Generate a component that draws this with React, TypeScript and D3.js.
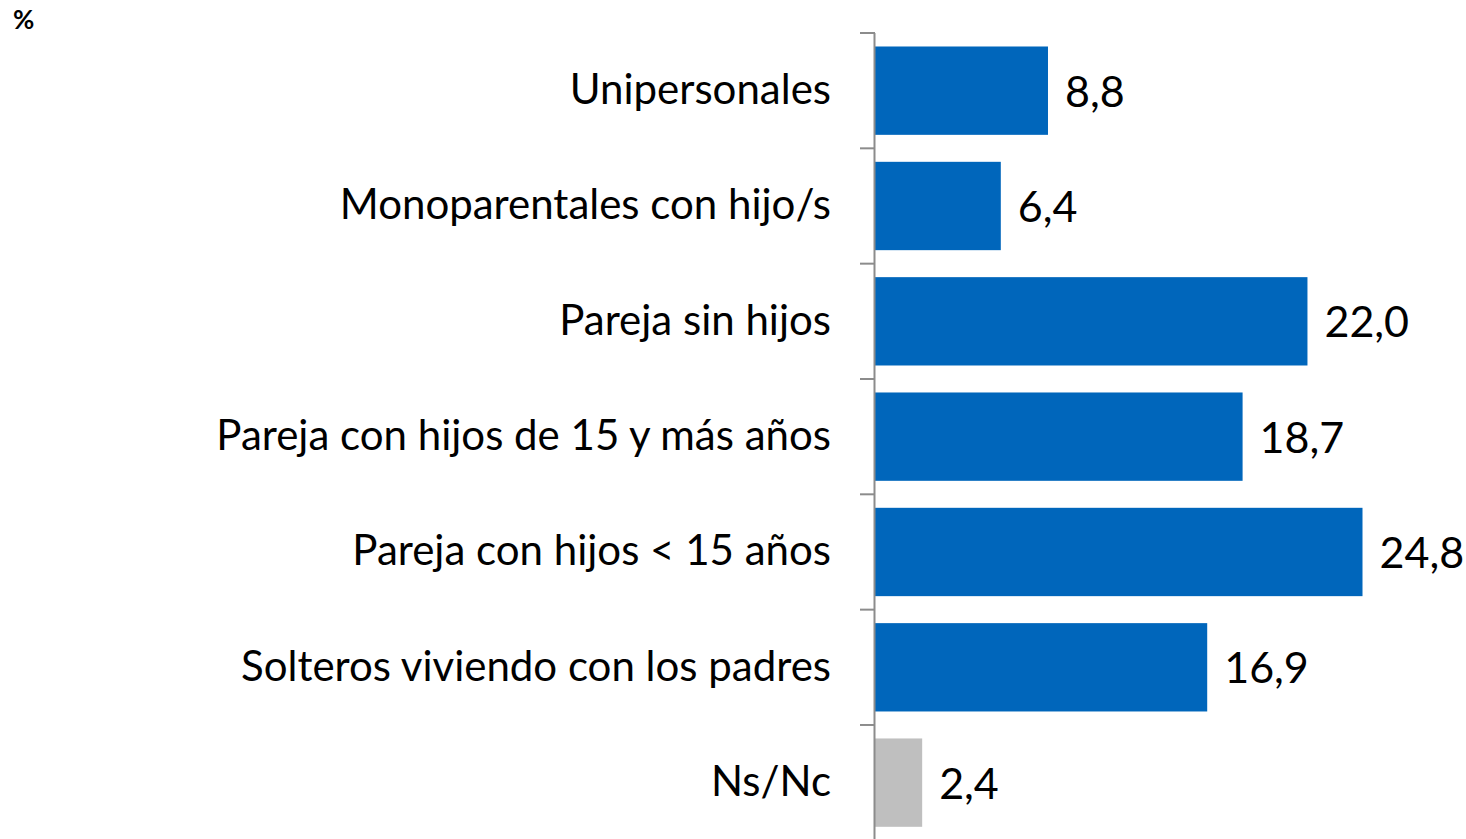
import React, { useEffect, useRef } from 'react';
import * as d3 from 'd3';

const categories = [
  'Unipersonales',
  'Monoparentales con hijo/s',
  'Pareja sin hijos',
  'Pareja con hijos de 15 y más años',
  'Pareja con hijos < 15 años',
  'Solteros viviendo con los padres',
  'Ns/Nc',
];
const values = [8.8, 6.4, 22.0, 18.7, 24.8, 16.9, 2.4];
const barColors = ['#0066BB', '#0066BB', '#0066BB', '#0066BB', '#0066BB', '#0066BB', '#BFBFBF'];

const App = () => {
  const svgRef = useRef<SVGSVGElement>(null);

  useEffect(() => {
    const width = 1466;
    const height = 839;
    const font = 'Lato, "Open Sans", sans-serif';

    const svg = d3.select(svgRef.current);
    svg.selectAll('*').remove();
    svg.attr('width', width).attr('height', height);

    const x = d3.scaleLinear().domain([0, 24.8]).range([875, 1362.5]);
    const y = d3.scaleBand<string>()
      .domain(categories)
      .range([33, 840.3])
      .paddingInner(0.234)
      .paddingOuter(0.117);
    const step = y.step();

    // percentage mark
    svg.append('text')
      .attr('x', 13)
      .attr('y', 29)
      .attr('font-family', font)
      .attr('font-weight', 'bold')
      .attr('font-size', 26)
      .text('%');

    // bars
    svg.selectAll('rect.bar')
      .data(values)
      .enter()
      .append('rect')
      .attr('class', 'bar')
      .attr('x', x(0))
      .attr('y', (d, i) => y(categories[i])!)
      .attr('width', d => x(d) - x(0))
      .attr('height', y.bandwidth())
      .attr('fill', (d, i) => barColors[i]);

    // axis line and ticks
    const axis = svg.append('g').attr('stroke', '#8C8C8C').attr('stroke-width', 2);
    axis.append('line')
      .attr('x1', x(0) - 0.5).attr('x2', x(0) - 0.5)
      .attr('y1', 33).attr('y2', height);
    axis.selectAll('line.tick')
      .data(categories)
      .enter()
      .append('line')
      .attr('class', 'tick')
      .attr('x1', x(0) - 15).attr('x2', x(0))
      .attr('y1', d => y(d)! - step * 0.117)
      .attr('y2', d => y(d)! - step * 0.117);

    // category labels
    svg.selectAll('text.cat')
      .data(categories)
      .enter()
      .append('text')
      .attr('class', 'cat')
      .attr('x', 831)
      .attr('y', d => y(d)! + y.bandwidth() / 2)
      .attr('dy', '0.32em')
      .attr('text-anchor', 'end')
      .attr('font-family', font)
      .attr('font-size', 42)
      .attr('fill', '#000')
      .text(d => d);

    // value labels
    svg.selectAll('text.val')
      .data(values)
      .enter()
      .append('text')
      .attr('class', 'val')
      .attr('x', d => x(d) + 17)
      .attr('y', (d, i) => y(categories[i])! + y.bandwidth() / 2 + 1)
      .attr('dy', '0.35em')
      .attr('font-family', font)
      .attr('font-size', 43)
      .attr('fill', '#000')
      .text(d => d.toFixed(1).replace('.', ','));
  }, []);

  return (
    <div style={{ position: 'absolute', left: 0, top: 0 }}>
      <svg ref={svgRef} style={{ display: 'block' }}></svg>
    </div>
  );
};

export default App;
